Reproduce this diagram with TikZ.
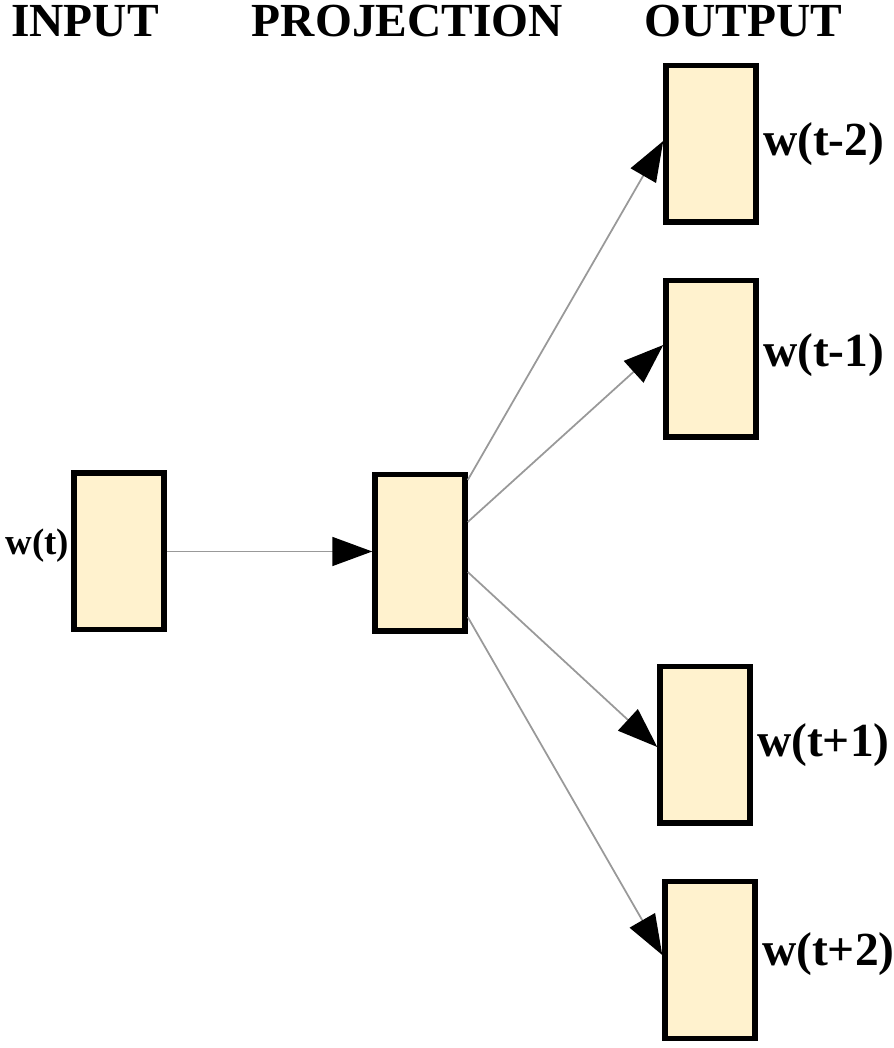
\documentclass[tikz,border=0pt]{standalone}
\usepackage{fontspec}
\setmainfont{Liberation Serif}
\usepackage{xcolor}
\usetikzlibrary{positioning,arrows.meta}

\definecolor{cream}{RGB}{255,242,206}

\begin{document}
\begin{tikzpicture}[
    vecbox/.style={draw=black, line width=0.11cm, fill=cream, minimum width=1.8cm, minimum height=3.13cm, inner sep=0pt},
    head/.style={font=\fontsize{27}{30}\selectfont\bfseries, anchor=base},
    wlbl/.style={font=\fontsize{27}{30}\selectfont\bfseries, inner sep=0pt},
    link/.style={draw=black!40, line width=1pt, -{Triangle[length=0.8cm, width=0.58cm, color=black]}}
]
\useasboundingbox (0,0) rectangle (17.86,20.96);

% Column titles
\node[head] (hin) at (1.70,20.22) {INPUT};
\node[head] (hproj) at (8.15,20.22) {PROJECTION};
\node[head] (hout) at (14.87,20.22) {OUTPUT};

% Boxes
\node[vecbox] (in) at (2.38,9.93) {};
\node[vecbox] (proj) at (8.40,9.90) {};
\node[vecbox] (o1) at (14.22,18.08) {};
\node[vecbox] (o2) at (14.22,13.78) {};
\node[vecbox] (o3) at (14.10,6.06) {};
\node[vecbox] (o4) at (14.20,1.76) {};

% Word labels
\node[wlbl, font=\fontsize{21}{24}\selectfont\bfseries, left=0.04cm of in, yshift=0.12cm] (lin) {w(t)};
\node[wlbl, right=0.08cm of o1] (l1) {w(t-2)};
\node[wlbl, right=0.08cm of o2, yshift=0.08cm] (l2) {w(t-1)};
\node[wlbl, right=0.08cm of o3] (l3) {w(t+1)};
\node[wlbl, right=0.08cm of o4, yshift=0.12cm] (l4) {w(t+2)};

% Arrows
\draw[link] (in.east) -- (in.east -| proj.west);
\foreach \s/\t/\d in {1.46/o1/0.06, 0.62/o2/0.28, -0.38/o3/-0.04, -1.28/o4/0.10}
    \draw[link] ([yshift=\s cm]proj.east) -- ([yshift=\d cm]\t.west);
\end{tikzpicture}
\end{document}
